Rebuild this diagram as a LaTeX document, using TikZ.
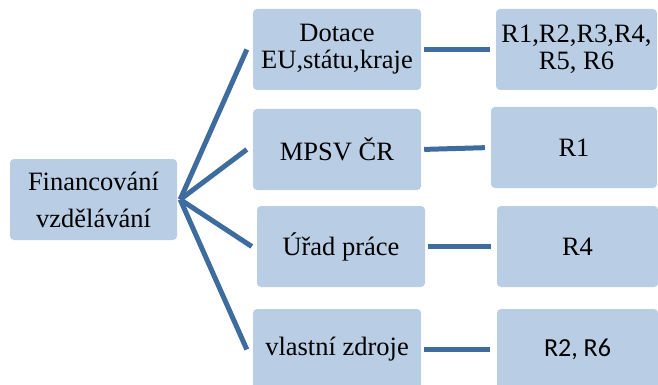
\documentclass[tikz,border=0pt]{standalone}
\usepackage{fontspec}
\setmainfont{Liberation Serif}
\newfontfamily\tnr{Liberation Serif}
\newfontfamily\calib{Carlito}
\definecolor{boxfill}{HTML}{B9CDE5}
\definecolor{linkblue}{HTML}{3F6C9E}
\begin{document}
\begin{tikzpicture}[x=1pt,y=-1pt,
  box/.style={fill=boxfill, rounded corners=4pt, inner sep=0pt, align=center,
    minimum height=81pt, font=\tnr\fontsize{26.5}{27}\selectfont},
  link/.style={draw=linkblue, line width=5pt}]
\useasboundingbox (0,0) rectangle (658,385);
\clip (0,0) rectangle (658,385);
\node[box, minimum width=167pt, font=\tnr\fontsize{26.5}{37}\selectfont] (root) at (93.5,199.5) {Financování\\vzdělávání};
\node[box, minimum width=168pt] (b1) at (337,49.5) {Dotace\\EU,státu,kraje};
\node[box, minimum width=168pt] (b2) at (337,149.5) {MPSV ČR};
\node[box, minimum width=168pt] (b3) at (341,246.5) {Úřad práce};
\node[box, minimum width=168pt] (b4) at (337,349.5) {vlastní zdroje};
\node[box, minimum width=161pt] (r1) at (576.5,49.5) {R1,R2,R3,R4,\\R5, R6};
\node[box, minimum width=166pt] (r2) at (574,147.5) {R1};
\node[box, minimum width=161pt] (r3) at (577.5,246.5) {R4};
\node[box, minimum width=161pt, font=\calib\fontsize{26}{27}\selectfont] (r4) at (577.5,349.5) {R2, R6};
\coordinate (apex) at ([xshift=3pt]root.east);
\draw[link] (apex) -- ([xshift=-6pt]b1.west);
\draw[link] (apex) -- ([xshift=-6pt]b2.west);
\draw[link] (apex) -- ([xshift=-5pt]b3.west);
\draw[link] (apex) -- ([xshift=-6pt]b4.west);
\draw[link, shorten <=3pt, shorten >=6pt] (b1.east) -- (b1.east -| r1.west);
\draw[link, shorten <=3pt, shorten >=6pt] (b2.east) -- (r2.west);
\draw[link, shorten <=3pt, shorten >=6pt] (b3.east) -- (b3.east -| r3.west);
\draw[link, shorten <=3pt, shorten >=7pt] (b4.east) -- (b4.east -| r4.west);
\end{tikzpicture}
\end{document}
